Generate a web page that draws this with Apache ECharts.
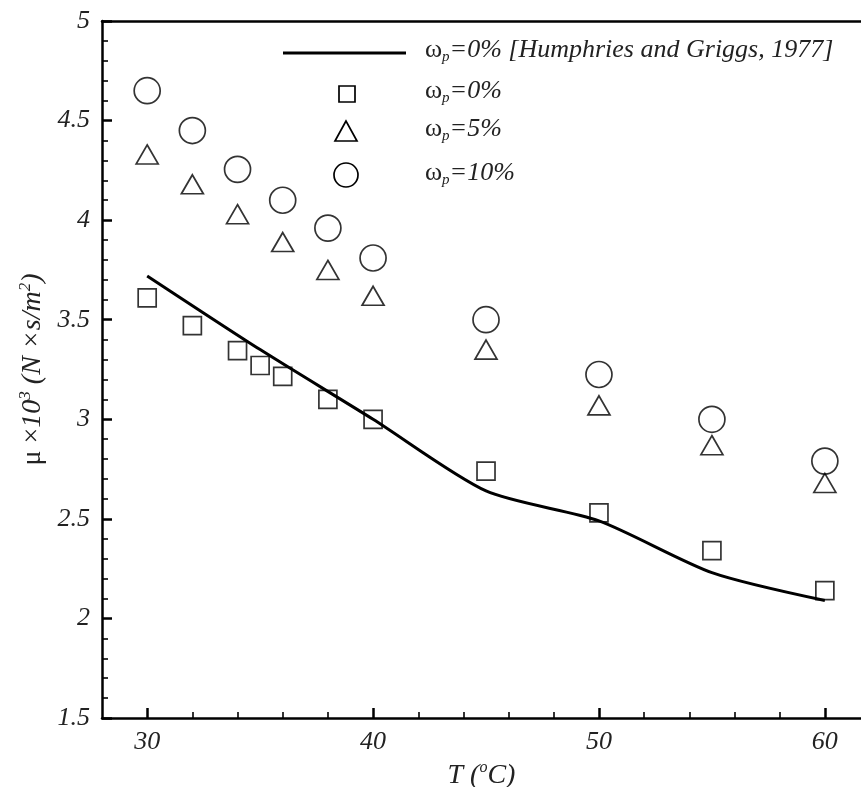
<!DOCTYPE html>
<html lang="en">
<head>
    <meta charset="UTF-8">
    <title>viscosity vs temperature</title>
    <style>
        html, body { margin: 0; padding: 0; background: #fff; }
        #main { width: 861px; height: 787px; }
    </style>
</head>
<body>
<div id="main"></div>
<script src="https://cdn.jsdelivr.net/npm/echarts@6/dist/echarts.min.js"></script>
<script>
    const myChart = echarts.init(document.getElementById('main'));

    // temperatures (°C)
    const tempSq = [30, 32, 34, 35, 36, 38, 40, 45, 50, 55, 60];
    const tempTC = [30, 32, 34, 36, 38, 40, 45, 50, 55, 60];
    const tempRef = [30, 35, 40, 45, 50, 55, 60];

    // viscosity mu x 10^3
    const mu0 = [3.61, 3.47, 3.345, 3.27, 3.215, 3.10, 3.0, 2.74, 2.53, 2.34, 2.14];
    const mu5 = [4.33, 4.18, 4.03, 3.89, 3.75, 3.62, 3.35, 3.07, 2.87, 2.68];
    const mu10 = [4.65, 4.45, 4.255, 4.10, 3.96, 3.81, 3.50, 3.225, 3.0, 2.79];
    const muRef = [3.72, 3.35, 3.0, 2.64, 2.49, 2.23, 2.09];

    // ticks
    const xMajor = [30, 40, 50, 60];
    const xMinor = [32, 34, 36, 38, 42, 44, 46, 48, 52, 54, 56, 58];

    const zip = (xs, ys) => xs.map((x, i) => [x, ys[i]]);

    const font = 'Liberation Serif';
    const txt = '#222';

    const xBase = {
        type: 'value', min: 28, max: 61.6,
        splitLine: {show: false}
    };

    // legend rows: omega with subscript p
    const legendText = (y, rest) => ({
        type: 'text', left: 425, top: y,
        style: {
            text: '{w|ω}{p|p}{t|' + rest + '}',
            fill: txt,
            rich: {
                w: {fontFamily: font, fontSize: 26, lineHeight: 30, fill: txt},
                p: {fontFamily: font, fontStyle: 'italic', fontSize: 15, lineHeight: 15, verticalAlign: 'bottom', fill: txt},
                t: {fontFamily: font, fontStyle: 'italic', fontSize: 26, lineHeight: 30, fill: txt}
            }
        }
    });

    const sym = {fill: 'none', stroke: '#000', lineWidth: 1.7};

    const option = {
        animation: false,
        backgroundColor: '#fff',
        grid: {left: 102, right: 0, top: 21, bottom: 69, outerBoundsMode: 'none', containLabel: false},
        xAxis: [
            Object.assign({}, xBase, {
                position: 'bottom',
                axisLine: {show: true, lineStyle: {color: '#000', width: 2.5}},
                axisTick: {show: true, inside: true, length: 10, customValues: xMajor,
                    lineStyle: {color: '#000', width: 2.5}},
                axisLabel: {customValues: xMajor, margin: 11, color: txt,
                    fontFamily: font, fontStyle: 'italic', fontSize: 26},
                name: '{t|T (}{s|o}{t|C)}',
                nameLocation: 'middle',
                nameGap: 40,
                nameTextStyle: {
                    rich: {
                        t: {fontFamily: font, fontStyle: 'italic', fontSize: 28, lineHeight: 32, color: txt},
                        s: {fontFamily: font, fontStyle: 'italic', fontSize: 16, lineHeight: 16, verticalAlign: 'top', color: txt}
                    }
                }
            }),
            Object.assign({}, xBase, {
                position: 'bottom',
                axisLine: {show: false},
                axisTick: {show: true, inside: true, length: 6, customValues: xMinor,
                    lineStyle: {color: '#000', width: 1.6}},
                axisLabel: {show: false}
            }),
            Object.assign({}, xBase, {
                position: 'top',
                axisLine: {show: true, lineStyle: {color: '#000', width: 2.5}},
                axisTick: {show: false},
                axisLabel: {show: false}
            })
        ],
        yAxis: {
            type: 'value', min: 1.5, max: 5, interval: 0.5,
            splitLine: {show: false},
            axisLine: {show: true, lineStyle: {color: '#000', width: 2.5}},
            axisTick: {show: true, inside: true, length: 10, lineStyle: {color: '#000', width: 2.5}},
            minorTick: {show: true, splitNumber: 5, length: 6, lineStyle: {color: '#000', width: 1.6}},
            axisLabel: {margin: 12, color: txt, fontFamily: font, fontStyle: 'italic', fontSize: 26},
            name: '{m|μ ×}{i|10}{s|3}{i| (N ×s/m}{s|2}{i|)}',
            nameLocation: 'middle',
            nameRotate: 90,
            nameGap: 52,
            nameTextStyle: {
                rich: {
                    m: {fontFamily: font, fontSize: 28, lineHeight: 32, color: txt},
                    i: {fontFamily: font, fontStyle: 'italic', fontSize: 28, lineHeight: 32, color: txt},
                    s: {fontFamily: font, fontStyle: 'italic', fontSize: 17, lineHeight: 17, verticalAlign: 'top', color: txt}
                }
            }
        },
        series: [
            {
                name: 'ref', type: 'line', data: zip(tempRef, muRef),
                smooth: 0.25, showSymbol: false,
                lineStyle: {color: '#000', width: 3}
            },
            {
                name: 'w0', type: 'scatter', data: zip(tempSq, mu0),
                symbol: 'rect', symbolSize: 18,
                itemStyle: {color: 'transparent', borderColor: '#000', borderWidth: 1.7}
            },
            {
                name: 'w5', type: 'scatter', data: zip(tempTC, mu5),
                symbol: 'triangle', symbolSize: [22, 19],
                itemStyle: {color: 'transparent', borderColor: '#000', borderWidth: 1.7}
            },
            {
                name: 'w10', type: 'scatter', data: zip(tempTC, mu10),
                symbol: 'circle', symbolSize: 26,
                itemStyle: {color: 'transparent', borderColor: '#000', borderWidth: 1.7}
            }
        ],
        graphic: [
            {type: 'line', shape: {x1: 283, y1: 53, x2: 406, y2: 53}, style: {stroke: '#000', lineWidth: 3}},
            {type: 'rect', shape: {x: 339, y: 86, width: 16, height: 16}, style: sym},
            {type: 'polygon', shape: {points: [[346, 121], [335, 141], [357, 141]]}, style: sym},
            {type: 'circle', shape: {cx: 346, cy: 175, r: 12}, style: sym},
            legendText(37, '=0% [Humphries and Griggs, 1977]'),
            legendText(78, '=0%'),
            legendText(116, '=5%'),
            legendText(160, '=10%')
        ]
    };

    myChart.setOption(option);
</script>
</body>
</html>
